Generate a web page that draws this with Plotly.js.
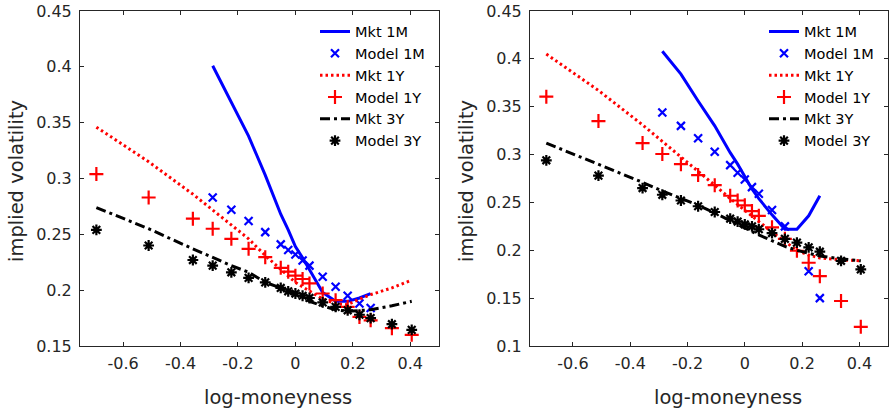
<!DOCTYPE html>
<html>
<head>
<meta charset="utf-8">
<script src="https://cdn.plot.ly/plotly-3.0.1.min.js"></script>
<style>html,body{margin:0;padding:0;background:#fff;}#chart{width:890px;height:410px;}</style>
</head>
<body>
<div id="chart"></div>
<script>
// log-moneyness grids
const xAll = [-0.693,-0.511,-0.357,-0.288,-0.223,-0.163,-0.105,-0.051,-0.025,0,0.025,0.049,0.095,0.140,0.182,0.223,0.262,0.336,0.405];
const x1M  = [-0.288,-0.223,-0.163,-0.105,-0.051,-0.025,0,0.025,0.049,0.095,0.140,0.182,0.223,0.262];

// Left panel
const leftMkt1M   = [0.401,0.368,0.338,0.303,0.268,0.254,0.239,0.229,0.218,0.198,0.190,0.190,0.193,0.197];
const leftModel1M = [0.283,0.272,0.262,0.252,0.241,0.236,0.232,0.2265,0.222,0.212,0.203,0.195,0.188,0.184];
const leftMkt1Y   = [0.346,0.315,0.286,0.272,0.259,0.246,0.231,0.219,0.213,0.207,0.203,0.199,0.192,0.188,0.187,0.192,0.196,0.202,0.209];
const leftModel1Y = [0.304,0.283,0.264,0.255,0.246,0.237,0.2295,0.220,0.2166,0.213,0.210,0.206,0.197,0.191,0.185,0.176,0.173,0.166,0.160];
const leftMkt3Y   = [0.274,0.255,0.237,0.229,0.222,0.216,0.207,0.202,0.199,0.196,0.194,0.190,0.186,0.1825,0.181,0.182,0.1825,0.186,0.190];
const leftModel3Y = [0.254,0.240,0.227,0.222,0.216,0.211,0.207,0.202,0.199,0.197,0.195,0.193,0.189,0.185,0.182,0.178,0.175,0.1695,0.1644];

// Right panel
const rightMkt1M   = [0.408,0.384,0.356,0.330,0.302,0.290,0.277,0.264,0.254,0.237,0.222,0.222,0.236,0.257];
const rightModel1M = [0.344,0.330,0.317,0.303,0.289,0.281,0.274,0.266,0.259,0.242,0.225,null,0.178,0.150];
const rightMkt1Y   = [0.405,0.367,0.331,0.314,0.298,0.283,0.268,0.254,0.248,0.242,0.236,0.230,0.219,0.209,0.200,0.195,0.192,0.190,0.189];
const rightModel1Y = [0.3605,0.335,0.312,0.3006,0.290,0.2786,0.268,0.257,0.252,0.247,0.241,0.236,0.224,0.212,0.1995,0.187,0.173,0.147,0.120];
const rightMkt3Y   = [0.312,0.290,0.271,0.262,0.254,0.247,0.239,0.231,0.227,0.223,0.220,0.216,0.210,0.204,0.200,0.197,0.194,0.191,0.189];
const rightModel3Y = [0.294,0.278,0.265,0.258,0.252,0.246,0.240,0.233,0.230,0.227,0.225,0.222,0.218,0.212,0.208,0.203,0.1985,0.189,0.180];

const names = ['Mkt 1M','Model 1M','Mkt 1Y','Model 1Y','Mkt 3Y','Model 3Y'];
const xTitle = 'log-moneyness';
const yTitle = 'implied volatility';
const xTicks = [-0.6,-0.4,-0.2,0,0.2,0.4];
const xTickText = ['-0.6','-0.4','-0.2','0','0.2','0.4'];
const yTicksL = [0.15,0.2,0.25,0.3,0.35,0.4,0.45];
const yTickTextL = ['0.15','0.2','0.25','0.3','0.35','0.4','0.45'];
const yTicksR = [0.1,0.15,0.2,0.25,0.3,0.35,0.4,0.45];
const yTickTextR = ['0.1','0.15','0.2','0.25','0.3','0.35','0.4','0.45'];

function panel(series, xa, ya, lg) {
  const [m1M, mo1M, m1Y, mo1Y, m3Y, mo3Y] = series;
  return [
    {x: x1M, y: m1M, name: names[0], mode: 'lines', line: {color: '#0000ff', width: 3}, xaxis: xa, yaxis: ya, legend: lg},
    {x: x1M, y: mo1M, name: names[1], mode: 'markers', marker: {symbol: 'x-thin-open', size: 8, line: {color: '#0000ff', width: 2.2}, color: '#0000ff'}, xaxis: xa, yaxis: ya, legend: lg},
    {x: xAll, y: m1Y, name: names[2], mode: 'lines', line: {color: '#ff0000', width: 3, dash: '2.5px,3px'}, xaxis: xa, yaxis: ya, legend: lg},
    {x: xAll, y: mo1Y, name: names[3], mode: 'markers', marker: {symbol: 'cross-thin-open', size: 10, line: {color: '#ff0000', width: 2.2}, color: '#ff0000'}, xaxis: xa, yaxis: ya, legend: lg},
    {x: xAll, y: m3Y, name: names[4], mode: 'lines', line: {color: '#000000', width: 3, dash: '10px,4px,3px,4px'}, xaxis: xa, yaxis: ya, legend: lg},
    {x: xAll, y: mo3Y, name: names[5], mode: 'markers', marker: {symbol: 'asterisk-open', size: 9, line: {color: '#000000', width: 2.2}, color: '#000000'}, xaxis: xa, yaxis: ya, legend: lg}
  ];
}

const data = [].concat(
  panel([leftMkt1M, leftModel1M, leftMkt1Y, leftModel1Y, leftMkt3Y, leftModel3Y], 'x', 'y', 'legend'),
  panel([rightMkt1M, rightModel1M, rightMkt1Y, rightModel1Y, rightMkt3Y, rightModel3Y], 'x2', 'y2', 'legend2')
);

const FAM = 'DejaVu Sans, Verdana, sans-serif';
const font = {family: FAM, color: '#262626'};
function xax(domain, anchor) {
  return {domain: domain, anchor: anchor, range: [-0.75, 0.5], tickmode: 'array', tickvals: xTicks, ticktext: xTickText,
    ticks: 'inside', ticklen: 4, tickcolor: '#262626', showline: true, linecolor: '#262626', linewidth: 1, mirror: 'ticks',
    showgrid: false, zeroline: false, automargin: false, tickfont: {size: 16}, ticklabelstandoff: 3};
}
function yax(domain, anchor, range, tv, tt) {
  return {domain: domain, anchor: anchor, range: range, tickmode: 'array', tickvals: tv, ticktext: tt,
    ticks: 'inside', ticklen: 4, tickcolor: '#262626', showline: true, linecolor: '#262626', linewidth: 1, mirror: 'ticks',
    showgrid: false, zeroline: false, automargin: false, tickfont: {size: 16}, ticklabelstandoff: 4};
}
const legendStyle = {xanchor: 'left', yanchor: 'top', bgcolor: 'rgba(0,0,0,0)', borderwidth: 0,
  font: {size: 14.5, color: '#000', family: FAM}, itemwidth: 30, tracegroupgap: 0};

function title(text, xpx, ypx, angle) {
  return {text: text, xref: 'paper', yref: 'paper', x: xpx/890, y: 1-ypx/410, xanchor: 'center', yanchor: 'middle',
    showarrow: false, textangle: angle, font: {size: 19.5, family: FAM, color: '#262626'}};
}

const layout = {
  width: 890, height: 410, margin: {l: 0, r: 0, t: 0, b: 0}, paper_bgcolor: '#fff', plot_bgcolor: '#fff',
  font: font, showlegend: true,
  xaxis: xax([80/890, 439/890], 'y'),
  yaxis: yax([1-346/410, 1-11/410], 'x', [0.15, 0.45], yTicksL, yTickTextL),
  xaxis2: xax([530/890, 888/890], 'y2'),
  yaxis2: yax([1-346/410, 1-11/410], 'x2', [0.1, 0.45], yTicksR, yTickTextR),
  legend: Object.assign({x: 315/890, y: 1-15.5/410}, legendStyle),
  legend2: Object.assign({x: 764/890, y: 1-15.5/410}, legendStyle),
  annotations: [
    title(xTitle, 278, 397, 0),
    title(xTitle, 728, 397, 0),
    title(yTitle, 17, 181, -90),
    title(yTitle, 467, 181, -90)
  ]
};

Plotly.newPlot('chart', data, layout, {displayModeBar: false, staticPlot: true});
</script>
</body>
</html>
